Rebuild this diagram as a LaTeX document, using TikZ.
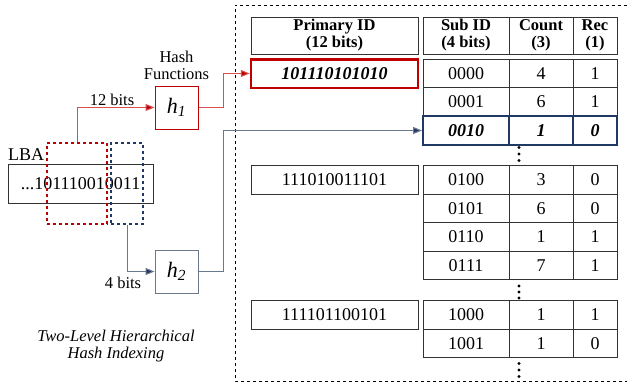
\documentclass[tikz,border=0pt]{standalone}
\usepackage{fontspec}
\setmainfont{Liberation Serif}
\usetikzlibrary{arrows.meta}
\definecolor{myred}{RGB}{192,0,0}
\definecolor{lred}{RGB}{215,80,80}
\definecolor{navy}{RGB}{31,56,100}
\definecolor{gblue}{RGB}{105,120,140}
\begin{document}
\begin{tikzpicture}[x=1pt,y=-1pt,
  cell/.style={draw=black!80, line width=0.8pt, inner sep=0pt, minimum height=28.5pt, font=\fontsize{18}{20}\selectfont},
  hicell/.style={draw=navy, line width=2pt, inner sep=0pt, minimum height=28.5pt, font=\fontsize{18}{20}\selectfont\bfseries\itshape},
  hdr/.style={draw=black!80, line width=0.8pt, inner sep=0pt, minimum height=37pt, align=center, font=\fontsize{16.5}{17}\selectfont\bfseries},
  lbl/.style={inner sep=0pt, font=\fontsize{16.5}{17}\selectfont},
  hbox/.style={draw, line width=1pt, minimum width=43pt, minimum height=43pt, inner sep=0pt, font=\fontsize{22}{24}\selectfont\itshape},
  redline/.style={draw=lred, line width=1pt, -{Triangle[length=9pt,width=7pt,fill=myred]}},
  blueline/.style={draw=gblue, line width=1pt, -{Triangle[length=9pt,width=7pt,fill=navy]}},
  dotf/.style={fill=black},
]
\useasboundingbox (0,0) rectangle (628,388);

% outer dashed frame
\draw[dashed, line width=0.6pt] (627,5) -- (235,5) -- (235,381) -- (627,381);

% headers
\node[hdr, minimum width=167pt] (hp) at (334.5,35.5) {Primary ID\\(12 bits)};
\node[hdr, minimum width=86pt] (hs) at (466,35.5) {Sub ID\\(4 bits)};
\node[hdr, minimum width=64pt] (hc) at (541,35.5) {Count\\(3)};
\node[hdr, minimum width=44pt] (hr) at (595,35.5) {Rec\\(1)};

% primary id cells
\node[cell, minimum width=167pt, draw=myred, line width=2.5pt, font=\fontsize{18}{20}\selectfont\bfseries\itshape] (p1) at (334.5,73.5) {101110101010};
\node[cell, minimum width=167pt] (p2) at (334.5,180) {111010011101};
\node[cell, minimum width=167pt] (p3) at (334.5,315) {111101100101};

% sub table rows
\foreach \y/\a/\b/\c/\n in {73.5/0000/4/1/1, 102/0001/6/1/2, 180/0100/3/0/4, 208.5/0101/6/0/5, 237/0110/1/1/6, 265.5/0111/7/1/7, 315/1000/1/1/8, 343.5/1001/1/0/9}{
  \node[cell, minimum width=86pt] (s\n) at (466,\y) {\a};
  \node[cell, minimum width=64pt] (c\n) at (541,\y) {\b};
  \node[cell, minimum width=44pt] (r\n) at (595,\y) {\c};
}
\node[hicell, minimum width=86pt] (s3) at (466,130.5) {0010};
\node[hicell, minimum width=64pt] (c3) at (541,130.5) {1};
\node[hicell, minimum width=44pt] (r3) at (595,130.5) {0};

% dots
\foreach \y in {147.5,154,160.5,286,292,298,363.5,370,376.5}{
  \fill[dotf] (519,\y) circle (1.6pt);
}

% LBA
\node[lbl, anchor=west, font=\fontsize{18}{20}\selectfont] (lbal) at (8,155) {LBA};
\node[draw=black!80, line width=0.8pt, minimum width=145pt, minimum height=39pt, inner sep=0pt, font=\fontsize{18}{20}\selectfont] (lba) at (80.5,183.5) {...101110010011};
\node[draw=myred, dashed, line width=1.5pt, minimum width=60pt, minimum height=81pt, inner sep=0pt] (rbx) at (77,183.5) {};
\node[draw=navy, dashed, line width=1.5pt, minimum width=32pt, minimum height=81pt, inner sep=0pt] (bbx) at (127,183.5) {};

% hash boxes
\node[hbox, draw=myred] (h1) at (176.5,107.5) {h\textsubscript{1}};
\node[hbox, draw=gblue] (h2) at (176.5,271.5) {h\textsubscript{2}};
\node[lbl, align=center] (hf) at (176.5,65) {Hash\\Functions};

% connectors
\draw[redline] (rbx.north) |- (h1.west);
\draw[redline] (h1.east) -- ++(25,0) |- (p1.west);
\draw[blueline] (bbx.south) |- (h2.west);
\draw[blueline] (h2.east) -- ++(25,0) |- (s3.west);

\node[lbl] (l12) at (112,100) {12 bits};
\node[lbl] (l4) at (123,283) {4 bits};

% caption
\node[lbl, align=center, font=\fontsize{16.5}{17}\selectfont\itshape] (cap) at (116,346.5) {Two-Level Hierarchical\\Hash Indexing};
\end{tikzpicture}
\end{document}
